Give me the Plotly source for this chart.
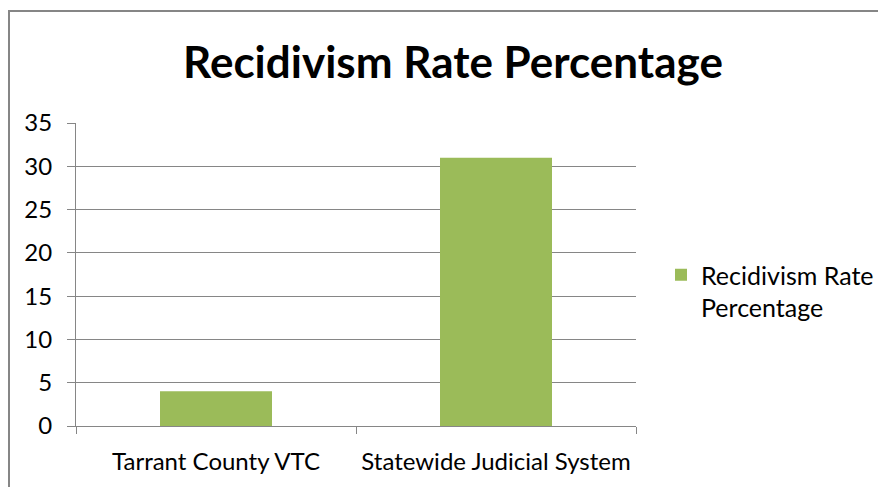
import plotly.graph_objects as go

categories = ["Tarrant County VTC", "Statewide Judicial System"]
values = [4, 31]
series_name = "Recidivism Rate<br>Percentage"
title_text = "Recidivism Rate Percentage"
y_ticks = [0, 5, 10, 15, 20, 25, 30, 35]

W, H = 886, 487
OFF = 8  # page body margin offset
# plot area in reference page pixels: x 76..636, y 123..426
L = 76 - OFF
T = 123 - OFF
R = W - (636 - OFF)
B = H - (426 - OFF)
pw = W - L - R
ph = H - T - B

def px(x):
    return (x - OFF - L) / pw

def py(y):
    return (H - B - (y - OFF)) / ph

fig = go.Figure()
fig.add_trace(go.Bar(
    x=categories, y=values, name=series_name,
    marker=dict(color="#9BBB59", line=dict(width=0)), width=0.4,
    showlegend=True,
))

font_family = "Lato, 'Open Sans', sans-serif"
fig.update_layout(
    width=W, height=H,
    margin=dict(l=L, r=R, t=T, b=B, autoexpand=False),
    paper_bgcolor="white", plot_bgcolor="white",
    font=dict(family=font_family, size=24, color="black"),
    title=dict(text="<b>" + title_text + "</b>", xref="container", x=(453 - OFF) / W,
               xanchor="center", yref="container", y=1 - (63 - OFF) / H, yanchor="middle",
               font=dict(size=44, family=font_family, color="black")),
    showlegend=True,
    legend=dict(x=px(661), xanchor="left", y=py(252), yanchor="top",
                font=dict(size=25), valign="top", bgcolor="rgba(0,0,0,0)",
                itemwidth=30),
)
fig.update_yaxes(range=[0, 35], tickvals=y_ticks, showgrid=True, gridcolor="#868686",
                 gridwidth=1, showline=True, linecolor="#868686", linewidth=1,
                 ticks="outside", ticklen=8, tickcolor="#868686", zeroline=False,
                 ticklabelstandoff=10, automargin=False, fixedrange=True)
fig.update_xaxes(showline=True, linecolor="#868686", linewidth=1, ticks="outside",
                 tickson="boundaries", ticklen=7, tickcolor="#868686", showgrid=False,
                 tickangle=0, ticklabelstandoff=14, automargin=False, fixedrange=True)
fig.add_shape(type="rect", xref="paper", yref="paper",
              x0=px(9), x1=px(900), y0=py(520), y1=py(11),
              line=dict(color="#868686", width=2), fillcolor="rgba(0,0,0,0)", layer="below")

fig.write_html("out.html", config={"displayModeBar": False})
